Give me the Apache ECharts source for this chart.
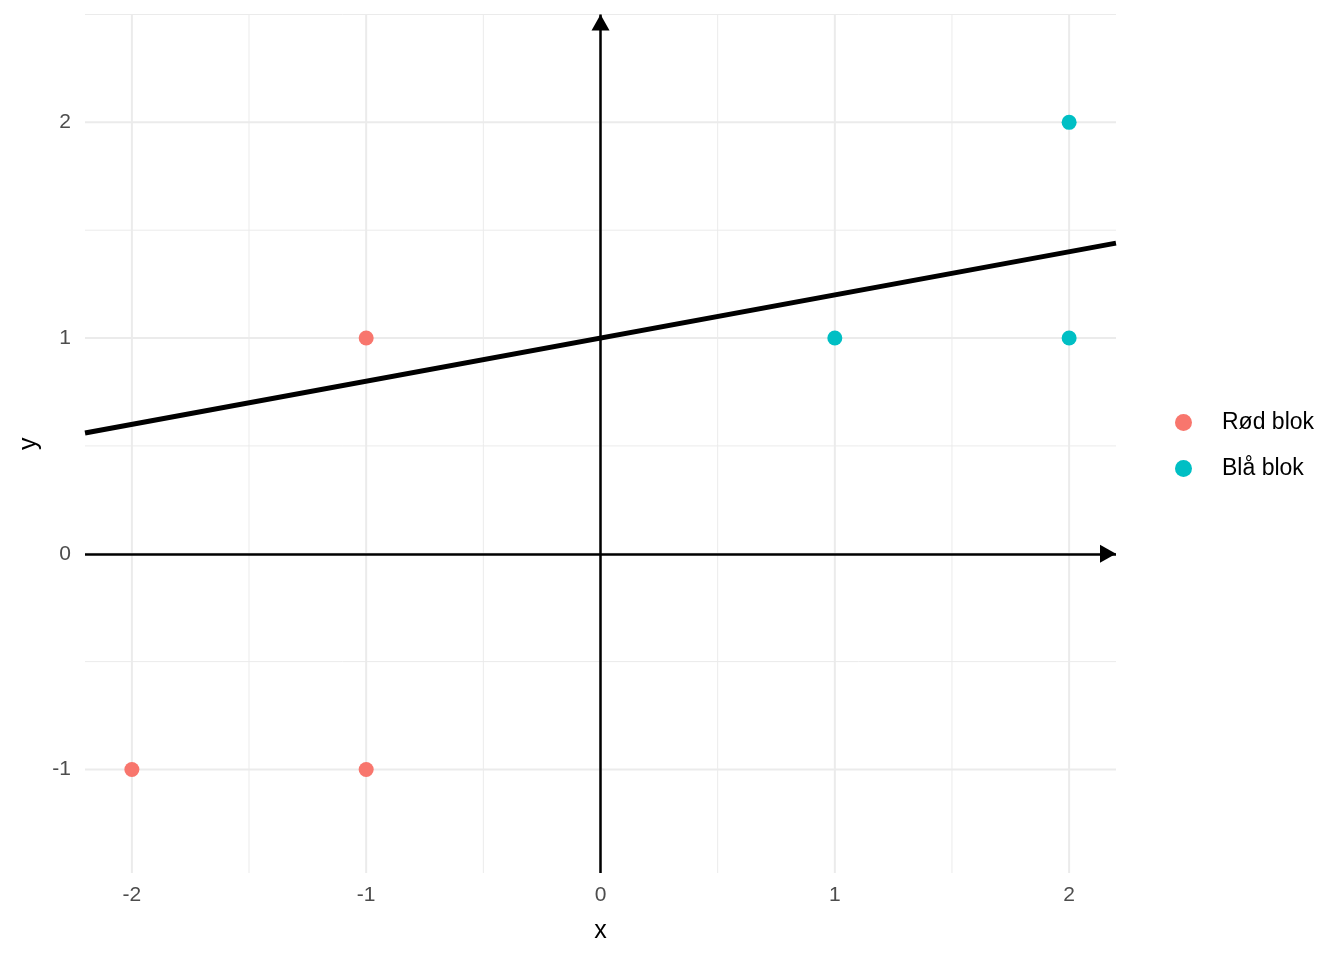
<!DOCTYPE html>
<html><head><meta charset="utf-8">
<script src="https://cdn.jsdelivr.net/npm/echarts@6/dist/echarts.min.js"></script>
<style>html,body{margin:0;padding:0;background:#fff}#c{width:1344px;height:960px}</style>
</head><body><div id="c"></div>
<script>
const redName = 'Rød blok';
const blueName = 'Blå blok';
const redPoints = [[-2,-1],[-1,-1],[-1,1]];
const bluePoints = [[1,1],[2,1],[2,2]];
const lineX = [-2.2, 2.2];
const lineIntercept = 1;
const lineSlope = 0.2;
const xTicks = [-2,-1,0,1,2];
const yTicks = [-1,0,1,2];
const xMinor = [-1.5,-0.5,0.5,1.5];
const yMinor = [-0.5,0.5,1.5,2.5];
const xRange = [-2.2, 2.2];
const yRange = [-1.48, 2.5];
// axis arrows: x-axis from -2.2 to 2.2, y-axis from -1.48 to 2.5 (tip at end)
const xAxisArrow = [-2.2, 2.2];
const yAxisArrow = [-1.48, 2.5];

const linePts = lineX.map(x => [x, lineIntercept + lineSlope * x]);
const gridCol = '#ebebeb';
const gridSeries = [];
function gl(data, w) {
  gridSeries.push({type:'line', data: data, showSymbol:false, silent:true, z:0, animation:false,
    lineStyle:{color:gridCol, width:w}, emphasis:{disabled:true}, tooltip:{show:false}});
}
xTicks.forEach(v => gl([[v, yRange[0]],[v, yRange[1]]], 2));
xMinor.forEach(v => gl([[v, yRange[0]],[v, yRange[1]]], 1));
yTicks.forEach(v => gl([[xRange[0], v],[xRange[1], v]], 2));
yMinor.forEach(v => gl([[xRange[0], v],[xRange[1], v]], 1));

const chart = echarts.init(document.getElementById('c'), null, {renderer:'canvas'});
chart.setOption({
  animation: false,
  textStyle: {fontFamily: 'Liberation Sans, Arial, sans-serif'},
  grid: {left: 85, right: 228, top: 14.5, bottom: 87},
  legend: {
    orient: 'vertical', left: 1170, top: 406, itemGap: 23,
    icon: 'circle', itemWidth: 17, itemHeight: 17,
    textStyle: {fontSize: 23, color: '#000', padding:[0,0,0,25]},
    data: [redName, blueName]
  },
  xAxis: {
    type: 'value', min: xRange[0], max: xRange[1],
    name: 'x', nameLocation: 'middle', nameGap: 46,
    nameTextStyle: {fontSize: 25, color: '#000'},
    axisLine: {show: false}, axisTick: {show: false}, splitLine: {show: false},
    axisLabel: {customValues: xTicks, fontSize: 21, color: '#4d4d4d', margin: 12}
  },
  yAxis: {
    type: 'value', min: yRange[0], max: yRange[1],
    name: 'y', nameLocation: 'middle', nameGap: 42, nameRotate: 90,
    nameTextStyle: {fontSize: 25, color: '#000'},
    axisLine: {show: false}, axisTick: {show: false}, splitLine: {show: false},
    axisLabel: {customValues: yTicks, fontSize: 21, color: '#4d4d4d', margin: 14}
  },
  series: gridSeries.concat([
    {
      type: 'line', name: 'axes', data: [], silent: true, z: 2,
      markLine: {
        silent: true, symbol: ['none','triangle'], symbolSize: [18, 16],
        symbolOffset: [0, [0, 8]],
        label: {show: false}, animation:false,
        lineStyle: {color: '#000', width: 2.5, type: 'solid'},
        emphasis: {disabled: true},
        data: [
          [{coord: [xAxisArrow[0], 0]}, {coord: [xAxisArrow[1], 0]}],
          [{coord: [0, yAxisArrow[0]]}, {coord: [0, yAxisArrow[1]]}]
        ]
      }
    },
    {
      type: 'line', name: 'fit', data: linePts, showSymbol: false, z: 3,
      lineStyle: {color: '#000', width: 5}
    },
    {
      type: 'scatter', name: redName, data: redPoints, symbolSize: 15, z: 4,
      itemStyle: {color: '#F8766D', opacity: 1}
    },
    {
      type: 'scatter', name: blueName, data: bluePoints, symbolSize: 15, z: 4,
      itemStyle: {color: '#00BFC4', opacity: 1}
    }
  ])
});
</script></body></html>
